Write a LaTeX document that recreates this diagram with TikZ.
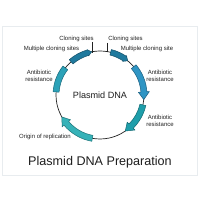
\documentclass[tikz,border=0pt]{standalone}
\usepackage{fontspec}
\setmainfont{Liberation Sans}
\definecolor{txt}{HTML}{222222}
\definecolor{ttl}{HTML}{1E1E1E}
\definecolor{dkfill}{HTML}{1F7A9E}
\definecolor{dkline}{HTML}{134F68}
\definecolor{bluefill}{HTML}{2F95C4}
\definecolor{blueline}{HTML}{1B5F80}
\definecolor{tealfill}{HTML}{1E9EAA}
\definecolor{tealline}{HTML}{126A72}
\definecolor{ltealfill}{HTML}{36B2B8}
\definecolor{ltealline}{HTML}{1D7378}
\definecolor{lfill}{HTML}{2CA2B8}
\definecolor{lline}{HTML}{18687A}
\definecolor{boxline}{HTML}{E8ECEF}
\tikzset{
  lbl/.style={font=\fontsize{6}{7}\selectfont, text=txt, inner sep=0pt, align=center},
  seg/.style={line width=0.5pt, line join=round},
}
% #1 start angle, #2 end angle (clockwise, #1>#2), #3 head angle, #4 half band, #5 half head
\newcommand{\arcarrow}[7]{%
  \filldraw[seg, fill=#6, draw=#7]
    (#1:44+#4) arc[start angle=#1, end angle=#2+#3, radius=44+#4]
    -- (#2+#3:44+#5) -- (#2:44) -- (#2+#3:44-#5) -- (#2+#3:44-#4)
    arc[start angle=#2+#3, end angle=#1, radius=44-#4] -- cycle;}
\newcommand{\arcband}[5]{%
  \filldraw[seg, fill=#4, draw=#5]
    (#1:44+#3) arc[start angle=#1, end angle=#2, radius=44+#3]
    -- (#2:44-#3) arc[start angle=#2, end angle=#1, radius=44-#3] -- cycle;}
\begin{document}
\begin{tikzpicture}[x=1pt,y=1pt]
\useasboundingbox (0,0) rectangle (200,200);
\fill[white] (0,0) rectangle (200,200);
\draw[boxline, line width=0.6pt] (2,25) rectangle (197,174);
\begin{scope}[shift={(100,105)}]
  \node[circle, draw=txt, line width=0.7pt, minimum size=88pt, inner sep=0pt] (plasmid) at (0,0) {};
  % left band
  \arcband{176}{142}{3}{lfill}{lline}
  % top-left dark
  \arcarrow{131}{101}{5}{2.8}{3.2}{dkfill}{dkline}
  % top-right dark
  \arcarrow{76}{51}{5}{2.8}{3.4}{dkfill}{dkline}
  % right blue
  \arcarrow{40}{-6}{10}{3}{5.5}{bluefill}{blueline}
  % lower right teal
  \arcarrow{-13}{-55}{10}{3}{5.5}{tealfill}{tealline}
  % bottom-left teal
  \arcarrow{-100}{-150}{10}{3}{5.5}{ltealfill}{ltealline}
\end{scope}
\coordinate (t1a) at (92,158);
\coordinate (t1b) at (92,147);
\coordinate (t2a) at (107,157);
\coordinate (t2b) at (107,148);
\draw[txt, line width=0.5pt] (t1a) -- (t1b);
\draw[txt, line width=0.5pt] (t2a) -- (t2b);
\node[font=\fontsize{9.1}{10}\selectfont, text=ttl] (pdna) at (100,105) {Plasmid DNA};
\node[lbl] (cs1) at (76.5,161) {Cloning sites};
\node[lbl] (mcs1) at (51.5,151) {Multiple cloning sites};
\node[lbl] (cs2) at (125.5,161) {Cloning sites};
\node[lbl] (mcs2) at (147,151) {Multiple cloning site};
\node[lbl] (ab1) at (39,124.5) {Antibiotic\\resistance};
\node[lbl] (ab2) at (160,124.5) {Antibiotic\\resistance};
\node[lbl] (ab3) at (160,79) {Antibiotic\\resistance};
\node[lbl] (ori) at (45,63) {Origin of replication};
\node[font=\fontsize{12.6}{14}\selectfont, text=ttl] (title) at (100,38) {Plasmid DNA Preparation};
\end{tikzpicture}
\end{document}
